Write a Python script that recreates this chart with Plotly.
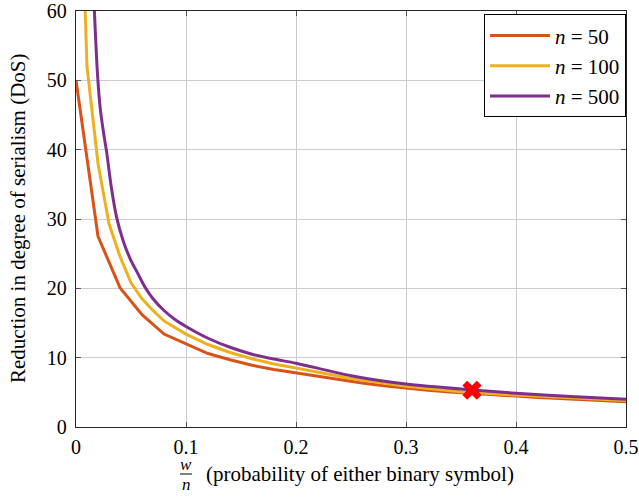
import plotly.graph_objects as go

# ---- data ----
x_n50 = [0.00, 0.02, 0.04, 0.06, 0.08, 0.10, 0.12, 0.14, 0.16, 0.18, 0.20, 0.22, 0.24,
         0.26, 0.28, 0.30, 0.32, 0.34, 0.36, 0.38, 0.40, 0.42, 0.44, 0.46, 0.48, 0.50]
y_n50 = [50, 27.5, 20.1, 16.2, 13.4, 12.0, 10.6, 9.7, 8.9, 8.3, 7.8, 7.25, 6.8,
         6.35, 5.95, 5.6, 5.3, 5.05, 4.83, 4.63, 4.45, 4.27, 4.1, 3.94, 3.79, 3.65]

x_n100 = [0.00, 0.01, 0.02, 0.03, 0.04, 0.05, 0.06, 0.07, 0.08, 0.09, 0.10, 0.12, 0.14,
          0.16, 0.18, 0.20, 0.25, 0.30, 0.35, 0.40, 0.45, 0.50]
y_n100 = [100, 52, 38, 29.3, 24.6, 20.8, 18.5, 16.8, 15.3, 14.3, 13.4, 11.9, 10.75,
          9.85, 9.1, 8.5, 7.0, 5.88, 5.1, 4.6, 4.18, 3.83]

x_n500 = [0.012, 0.015, 0.017, 0.0195, 0.022, 0.025, 0.028, 0.032, 0.037, 0.043, 0.050,
          0.056, 0.063, 0.070, 0.080, 0.090, 0.10, 0.12, 0.14, 0.16, 0.18, 0.20, 0.25,
          0.30, 0.36, 0.40, 0.45, 0.50]
y_n500 = [83, 67, 59, 51, 46, 42.5, 39.5, 34.7, 30.2, 26.8, 24.0,
          22.2, 20.1, 18.5, 16.8, 15.5, 14.5, 12.8, 11.5, 10.5, 9.8, 9.2, 7.4,
          6.2, 5.35, 4.87, 4.4, 4.0]

series_names = ["<i>n</i> = 50", "<i>n</i> = 100", "<i>n</i> = 500"]
series_colors = ["#D95319", "#EDB120", "#7E2F8E"]
series_shapes = ["linear", "linear", "spline"]

marker_x = [0.36]
marker_y = [5.3]

x_ticks = [0, 0.1, 0.2, 0.3, 0.4, 0.5]
x_tick_labels = ["0", "0.1", "0.2", "0.3", "0.4", "0.5"]
y_ticks = [0, 10, 20, 30, 40, 50, 60]

FONT = "Liberation Serif, Times New Roman, serif"

fig = go.Figure()
for i, (xs, ys) in enumerate([(x_n50, y_n50), (x_n100, y_n100), (x_n500, y_n500)]):
    fig.add_trace(go.Scatter(
        x=xs, y=ys, mode="lines", name=series_names[i],
        line=dict(color=series_colors[i], width=3, shape=series_shapes[i], smoothing=0.8),
        legendgroup=f"g{i}", cliponaxis=True,
    ))

fig.add_trace(go.Scatter(
    x=marker_x, y=marker_y, mode="markers", showlegend=False,
    marker=dict(symbol="x", size=17, color="#FF0000", line=dict(width=0)),
))

axis_common = dict(
    showline=True, mirror="allticks", linecolor="#262626", linewidth=1.3,
    ticks="inside", ticklen=5, tickcolor="#555555", tickwidth=1,
    showgrid=True, gridcolor="#CCCCCC", gridwidth=1, zeroline=False,
    tickfont=dict(family=FONT, size=20, color="black"), automargin=False,
    ticklabeloverflow="allow",
)

fig.update_xaxes(range=[0, 0.5], tickvals=x_ticks, ticktext=x_tick_labels,
                 ticklabelstandoff=2, **axis_common)
fig.update_yaxes(range=[0, 60], tickvals=y_ticks, ticklabelstandoff=4, **axis_common)

# plot area at x 76..626, y 11..427 of the 639x500 window
fig.update_layout(
    width=639, height=500,
    margin=dict(l=76, r=13, t=11, b=73, autoexpand=False),
    plot_bgcolor="white", paper_bgcolor="white",
    font=dict(family=FONT, size=20, color="black"),
    legend=dict(
        x=1, y=0.992, xanchor="right", yanchor="top",
        bordercolor="black", borderwidth=1, bgcolor="white",
        font=dict(family=FONT, size=21, color="black"),
        tracegroupgap=0, traceorder="grouped", itemwidth=60,
    ),
    showlegend=True,
)

# y-axis title
fig.add_annotation(
    text="Reduction in degree of serialism (DoS)", textangle=-90,
    xref="paper", yref="paper", x=(18 - 76) / 550, y=(427 - 218) / 416,
    xanchor="center", yanchor="middle", showarrow=False,
    font=dict(family=FONT, size=21, color="black"),
)
# x-axis title: fraction w/n + text
fig.add_annotation(text="<i>w</i>", xref="paper", yref="paper",
                   x=(186 - 76) / 550, y=(427 - 465) / 416, showarrow=False,
                   xanchor="center", yanchor="middle",
                   font=dict(family=FONT, size=17, color="black"))
fig.add_annotation(text="<i>n</i>", xref="paper", yref="paper",
                   x=(186 - 76) / 550, y=(427 - 484) / 416, showarrow=False,
                   xanchor="center", yanchor="middle",
                   font=dict(family=FONT, size=17, color="black"))
fig.add_shape(type="line", xref="paper", yref="paper",
              x0=(180 - 76) / 550, x1=(192 - 76) / 550,
              y0=(427 - 474) / 416, y1=(427 - 474) / 416,
              line=dict(color="black", width=1))
fig.add_annotation(text="(probability of either binary symbol)", xref="paper", yref="paper",
                   x=(204 - 76) / 550, y=(427 - 474) / 416, xanchor="left", yanchor="middle",
                   showarrow=False,
                   font=dict(family=FONT, size=21, color="black"))

fig.write_html("out.html", config={"displayModeBar": False},
               post_script="document.body.style.margin='0px';")
